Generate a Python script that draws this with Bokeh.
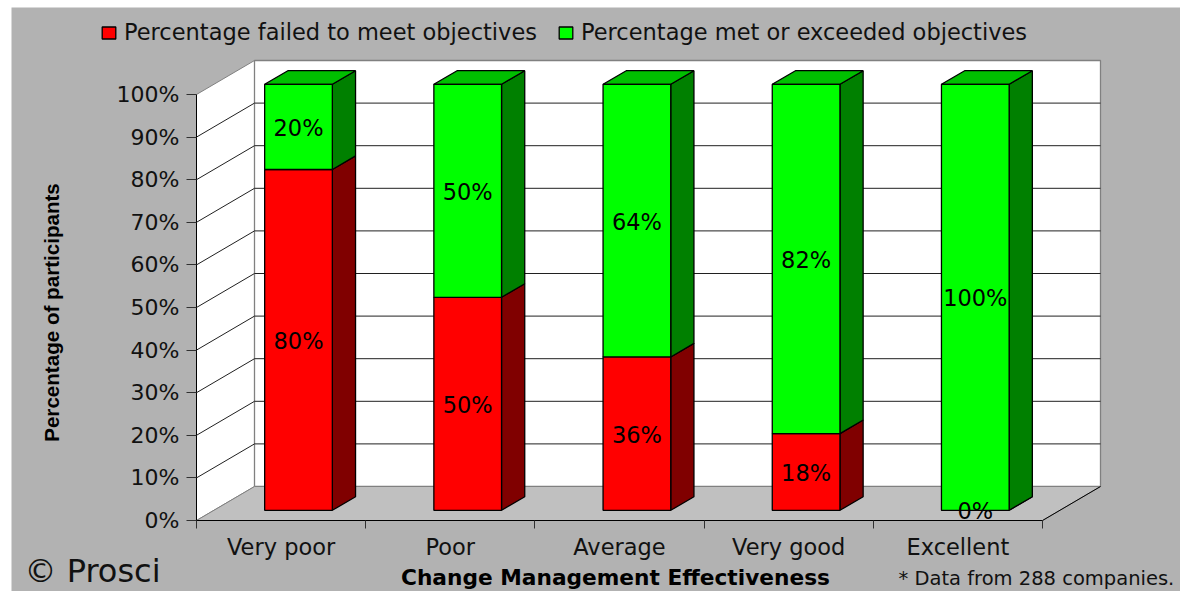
from bokeh.plotting import figure
from bokeh.models import (Range1d, LinearAxis, FixedTicker, Legend, LegendItem, Label, BoxAnnotation,
                          ColumnDataSource)
from bokeh.core.properties import value
from bokeh.embed import file_html
from bokeh.resources import INLINE

categories = ["Very poor", "Poor", "Average", "Very good", "Excellent"]
failed = [80, 50, 36, 18, 0]
met = [20, 50, 64, 82, 100]
y_ticks = [0, 10, 20, 30, 40, 50, 60, 70, 80, 90, 100]

FONT = "DejaVu Sans"
BG = "#B2B2B2"
CAT_PX, VAL_PX = 169.2, 4.26
LEFT, BOTTOM = 196, 520      # window pixels of the axes origin
W, H = 1180, 591
DX, DY = 58 / CAT_PX, 34 / VAL_PX   # depth offset in data units
D0, D1 = 0.3, 0.7            # bar front/back depth
BW = 0.4


def fx(px):
    return (px - LEFT) / CAT_PX


def fy(py):
    return (BOTTOM - py) / VAL_PX


p = figure(width=W, height=H, output_backend="svg", toolbar_location=None,
           x_range=Range1d(fx(0), fx(W)), y_range=Range1d(fy(H), fy(0)),
           x_axis_type=None, y_axis_type=None,
           min_border_left=0, min_border_right=0, min_border_top=0, min_border_bottom=0)
p.border_fill_color = "white"
p.background_fill_color = "white"
p.outline_line_color = None
p.xgrid.visible = False
p.ygrid.visible = False

p.add_layout(BoxAnnotation(left=fx(11), right=fx(W), top=fy(7), bottom=fy(H),
                           fill_color=BG, fill_alpha=1, line_color=None, level="underlay"))

# walls and floor
X5 = len(categories)
p.patch([0, DX, DX, 0], [0, DY, 100 + DY, 100], fill_color="white", line_color="#808080", line_width=1)
p.patch([DX, X5 + DX, X5 + DX, DX], [DY, DY, 100 + DY, 100 + DY], fill_color="white", line_color="#808080", line_width=1.3)
p.patch([0, X5, X5 + DX, DX], [0, 0, DY, DY], fill_color="#C0C0C0", line_color="#808080", line_width=1)
p.line([X5, X5 + DX], [0, DY], line_color="black", line_width=1)

# gridlines
inner = y_ticks[1:-1]
p.multi_line([[0, DX, X5 + DX] for _ in inner], [[t, t + DY, t + DY] for t in inner],
             line_color="#202020", line_width=1)

# bars
xl = [i + (1 - BW) / 2 + D0 * DX for i in range(len(categories))]
xr = [a + BW for a in xl]
y0 = D0 * DY
dd = (D1 - D0)
ox, oy = dd * DX, dd * DY
OUT = dict(line_color="black", line_width=1.3)


def side(xs, lo, hi):
    return ([[x, x + ox, x + ox, x] for x in xs],
            [[a + y0, a + y0 + oy, b + y0 + oy, b + y0] for a, b in zip(lo, hi)])


red_lo = [0] * len(failed)
red_hi = failed
green_lo = failed
green_hi = [a + b for a, b in zip(failed, met)]

sx, sy = side(xr, red_lo, red_hi)
p.patches(sx, sy, fill_color="#800000", **OUT)
sx, sy = side(xr, green_lo, green_hi)
p.patches(sx, sy, fill_color="#008000", **OUT)
p.patches([[a, a + ox, b + ox, b] for a, b in zip(xl, xr)],
          [[t + y0, t + y0 + oy, t + y0 + oy, t + y0] for t in green_hi],
          fill_color="#00BF00", **OUT)

r_red = p.quad(left=xl, right=xr, bottom=[a + y0 for a in red_lo], top=[a + y0 for a in red_hi],
               fill_color="#FF0000", **OUT)
r_green = p.quad(left=xl, right=xr, bottom=[a + y0 for a in green_lo], top=[a + y0 for a in green_hi],
                 fill_color="#00FF00", **OUT)

# data labels
cx = [(a + b) / 2 for a, b in zip(xl, xr)]
lx, ly, lt = [], [], []
for c, a, b, v in zip(cx, red_lo, red_hi, failed):
    lx.append(c); ly.append((a + b) / 2 + y0); lt.append(f"{v}%")
for c, a, b, v in zip(cx, green_lo, green_hi, met):
    lx.append(c); ly.append((a + b) / 2 + y0); lt.append(f"{v}%")
lab_src = ColumnDataSource(dict(x=lx, y=ly, t=lt))
p.text("x", "y", "t", source=lab_src, text_align="center", text_baseline="middle", y_offset=1,
       text_font=value(FONT), text_font_size="22.5px", text_color="black")

# axes, pinned inside the full-canvas frame
yaxis = LinearAxis(ticker=FixedTicker(ticks=y_ticks), bounds=(0, 100), fixed_location=0,
                   major_label_overrides={t: f"{t}%" for t in y_ticks})
yaxis.axis_line_color = "black"
yaxis.major_tick_line_color = "#303030"
yaxis.major_tick_in = 0
yaxis.major_tick_out = 10
yaxis.minor_tick_line_color = None
yaxis.major_label_text_font = FONT
yaxis.major_label_text_font_size = "22px"
yaxis.major_label_text_color = "#111111"
yaxis.major_label_standoff = 7
p.add_layout(yaxis, "left")

centers = [i + 0.5 for i in range(len(categories))]
xaxis = LinearAxis(ticker=FixedTicker(ticks=centers, minor_ticks=list(range(len(categories) + 1))),
                   bounds=(0, len(categories)), fixed_location=0,
                   major_label_overrides=dict(zip(centers, categories)))
xaxis.axis_line_color = "black"
xaxis.major_tick_line_color = None
xaxis.minor_tick_line_color = "#303030"
xaxis.minor_tick_in = 0
xaxis.minor_tick_out = 8
xaxis.major_label_text_font = FONT
xaxis.major_label_text_font_size = "22.5px"
xaxis.major_label_text_color = "#111111"
xaxis.major_label_standoff = 5
p.add_layout(xaxis, "below")

# legend
legend = Legend(items=[LegendItem(label="Percentage failed to meet objectives", renderers=[r_red]),
                       LegendItem(label="Percentage met or exceeded objectives", renderers=[r_green])],
                orientation="horizontal", location=(100, H - 45),
                background_fill_alpha=0, border_line_color=None, padding=0, margin=0,
                glyph_width=17, glyph_height=15, label_standoff=7, spacing=20,
                label_text_font=FONT, label_text_font_size="22.5px", label_text_color="#111111")
p.add_layout(legend, "center")


def note(text, px, py, size, font=FONT, style="normal", align="left", angle=0, color="#111111"):
    p.add_layout(Label(x=fx(px), y=fy(py), text=text, text_font=font, text_font_size=size, text_font_style=style,
                       text_align=align, text_baseline="middle", angle=angle, text_color=color))


note("Percentage of participants", 51, 312, "20.6px", font="Liberation Sans", style="bold", align="center", angle=1.5708, color="black")
note("Change Management Effectiveness", 615, 577, "21.7px", style="bold", align="center", color="black")
note("© Prosci", 24, 570, "32px")
note("* Data from 288 companies.", 898, 578, "19.5px")

open("out.html", "w").write(file_html(p, INLINE))
